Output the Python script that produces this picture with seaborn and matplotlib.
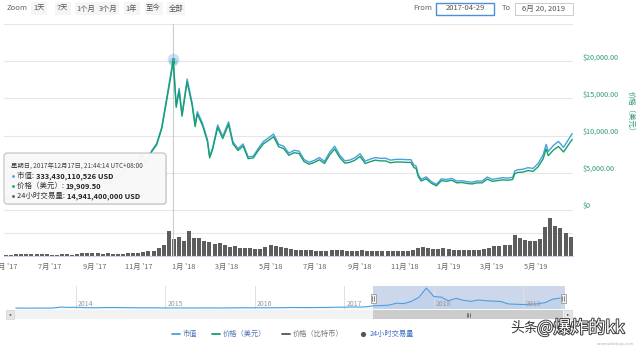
import numpy as np
import pandas as pd
import matplotlib
matplotlib.use("Agg")
import matplotlib.pyplot as plt
import matplotlib.patheffects as pe
import seaborn as sns
from matplotlib.patches import Rectangle, FancyBboxPatch

# ---------------- data ----------------
price_dates = [
    '2017-04-29', '2017-05-06', '2017-05-13', '2017-05-20', '2017-05-25', '2017-05-27', '2017-06-03',
    '2017-06-10', '2017-06-17', '2017-06-24', '2017-07-01', '2017-07-08', '2017-07-15', '2017-07-22',
    '2017-07-29', '2017-08-05', '2017-08-12', '2017-08-19', '2017-08-26', '2017-09-02', '2017-09-09',
    '2017-09-16', '2017-09-23', '2017-09-30', '2017-10-07', '2017-10-14', '2017-10-21', '2017-10-28',
    '2017-11-04', '2017-11-11', '2017-11-18', '2017-11-25', '2017-12-02', '2017-12-09', '2017-12-17 21:44',
    '2017-12-22', '2017-12-26', '2017-12-30',
    '2018-01-06', '2018-01-13', '2018-01-17', '2018-01-20', '2018-01-27', '2018-02-03', '2018-02-06',
    '2018-02-10', '2018-02-17', '2018-02-24', '2018-03-04', '2018-03-10', '2018-03-17', '2018-03-24',
    '2018-03-31', '2018-04-07', '2018-04-14', '2018-04-21', '2018-04-28', '2018-05-05', '2018-05-12',
    '2018-05-19', '2018-05-26', '2018-06-02', '2018-06-09', '2018-06-16', '2018-06-23', '2018-06-30',
    '2018-07-07', '2018-07-14', '2018-07-21', '2018-07-28', '2018-08-04', '2018-08-11', '2018-08-18',
    '2018-08-25', '2018-09-01', '2018-09-08', '2018-09-15', '2018-09-22', '2018-09-29', '2018-10-06',
    '2018-10-13', '2018-10-20', '2018-10-27', '2018-11-03', '2018-11-10', '2018-11-14', '2018-11-17',
    '2018-11-20', '2018-11-24', '2018-12-01', '2018-12-08', '2018-12-15', '2018-12-22', '2018-12-29',
    '2019-01-05', '2019-01-12', '2019-01-19', '2019-01-26', '2019-02-02', '2019-02-09', '2019-02-16',
    '2019-02-23', '2019-03-02', '2019-03-09', '2019-03-16', '2019-03-23', '2019-03-30', '2019-04-02',
    '2019-04-06', '2019-04-13', '2019-04-20', '2019-04-27', '2019-05-04', '2019-05-11', '2019-05-15',
    '2019-05-18', '2019-05-25', '2019-06-01', '2019-06-08', '2019-06-15', '2019-06-20']

price_usd = [
    1350, 1580, 1750, 2050, 2700, 2050, 2500, 2900, 2650, 2600, 2450, 2500, 1950, 2800, 2750, 3250,
    4000, 4100, 4350, 4600, 4300, 3650, 3700, 4350, 4600, 5650, 6000, 5750, 7400, 6350, 7800, 8750,
    10900, 14800, 19909.5, 13800, 16000, 12600,
    17200, 14000, 11200, 12900, 11400, 9200, 7000, 8100, 11100, 9600, 11500, 8900, 8000, 8600, 6900,
    7000, 8000, 8900, 9350, 9850, 8500, 8250, 7350, 7700, 7600, 6500, 6150, 6400, 6750, 6250, 7400,
    8200, 7050, 6300, 6400, 6700, 7200, 6250, 6500, 6700, 6600, 6600, 6350, 6450, 6450, 6400, 6400,
    5700, 5600, 4500, 3900, 4200, 3600, 3250, 3950, 3850,
    4000, 3650, 3700, 3570, 3500, 3650, 3650, 4150, 3850, 3950, 4050, 4000, 4100, 4900, 5050, 5100,
    5300, 5200, 5800, 6900, 8200, 7300, 8050, 8550, 7800, 8800, 9500]

market_cap_b = [
    22.0, 25.8, 28.6, 33.5, 44.2, 33.6, 41.0, 47.6, 43.5, 42.7, 40.3, 41.2, 32.1, 46.1, 45.3, 53.6,
    66.0, 67.8, 71.9, 76.2, 71.3, 60.5, 61.4, 72.2, 76.4, 93.9, 99.8, 95.7, 123.3, 105.9, 130.2, 146.2,
    182.2, 247.6, 333.43, 231.3, 268.2, 211.3,
    288.8, 235.2, 188.3, 216.8, 191.9, 154.9, 117.9, 136.6, 187.3, 162.0, 194.4, 150.5, 135.4, 145.6,
    117.0, 118.7, 135.8, 151.1, 159.0, 167.5, 144.7, 140.6, 125.3, 131.4, 129.8, 111.1, 105.2, 109.5,
    115.6, 107.1, 126.9, 140.7, 121.0, 108.3, 110.1, 115.3, 124.0, 107.8, 112.1, 115.6, 114.0, 114.1,
    109.9, 111.6, 111.7, 111.0, 111.0, 98.9, 97.2, 78.1, 67.7, 73.0, 62.6, 56.6, 68.8, 67.1,
    69.8, 63.7, 64.6, 62.4, 61.2, 63.9, 63.9, 72.7, 67.5, 69.3, 71.1, 70.3, 72.1, 86.1, 88.8, 89.8,
    93.3, 91.7, 102.3, 121.8, 144.8, 128.9, 142.3, 151.2, 138.1, 155.9, 168.4]

volume_start = '2017-04-29'          # weekly bars
volume_b = [
    0.8, 0.9, 1.0, 1.4, 1.3, 1.2, 1.5, 1.2, 1.0, 0.9, 0.8, 1.0, 1.1, 0.9, 1.4, 2.0, 2.2, 1.8, 2.0, 1.6,
    1.7, 1.2, 1.1, 1.5, 1.8, 1.9, 2.0, 2.8, 3.5, 3.0, 5.5, 7.5, 16.0, 11.0, 12.5, 9.5,
    16.5, 12.0, 11.5, 10.0, 9.0, 8.0, 8.5, 7.0, 6.0, 6.5, 5.5, 5.0, 5.2, 4.5, 4.8, 5.8, 7.0, 6.5, 5.6,
    5.0, 4.6, 4.2, 3.8, 3.6, 3.6, 3.4, 3.4, 3.2, 3.6, 4.2, 3.8, 3.4, 3.4, 3.2, 3.6, 3.3, 3.2, 3.3, 3.1,
    3.1, 3.3, 3.0, 3.2, 3.4, 3.8, 5.2, 5.8, 5.2, 4.6, 4.8, 5.4, 4.8,
    4.2, 4.0, 4.2, 4.0, 4.0, 4.2, 4.5, 5.0, 6.5, 6.8, 7.0, 7.5, 14.0, 12.0, 10.5, 10.0, 9.5, 11.0,
    19.0, 24.5, 19.5, 18.0, 15.0, 12.5]

nav_start = '2013-05-01'             # monthly, navigator overview
nav_price = [
    120, 100, 90, 120, 130, 200, 1100, 750,
    900, 600, 450, 450, 600, 650, 580, 480, 390, 340, 370, 320,
    220, 250, 245, 235, 230, 260, 285, 230, 235, 315, 375, 430,
    370, 435, 415, 450, 530, 675, 625, 575, 610, 700, 740, 960,
    970, 1190, 1070, 1350, 2300, 2480, 2870, 4700, 4340, 6470, 10200, 19000,
    11000, 10400, 6970, 9240, 7500, 6400, 7780, 7040, 6630, 6320, 4020, 3740,
    3460, 3850, 4100, 5350, 8570, 9500]
nav_years = ['2014', '2015', '2016', '2017', '2018', '2019']

price_ticks = [0, 5000, 10000, 15000, 20000, 25000]
price_tick_labels = ['$0', '$5,000.00', '$10,000.00', '$15,000.00', '$20,000.00', '']
x_tick_dates = pd.date_range('2017-05-01', '2019-05-01', freq='2MS')
x_tick_labels = [f"{d.month}月 '{d.year % 100:02d}" for d in x_tick_dates]

zoom_buttons = ['1天', '7天', '1个月', '3个月', '1年', '至今', '全部']
legend_labels = ['市值', '价格（美元）', '价格（比特币）', '24小时交易量']
tooltip_title = '星期日, 2017年12月17日, 21:44:14 UTC+08:00'
tooltip_rows = [('市值: ', '333,430,110,526 USD'),
                ('价格（美元）: ', '19,909.50'),
                ('24小时交易量: ', '14,941,400,000 USD')]

# ---------------- style ----------------
sns.set_style('white')
plt.rcParams['font.family'] = ['Noto Sans CJK SC', 'DejaVu Sans']

BLUE = '#4a9fe0'
GREEN = '#16a06c'
GREEN_T = '#2f9a70'
BAR = '#5d5d5d'
GRID = '#e6e6e6'

W, H = 640, 346
fig = plt.figure(figsize=(6.4, 3.46), dpi=100)


def rect(x0, y0, x1, y1):
    return [x0 / W, 1 - y1 / H, (x1 - x0) / W, (y1 - y0) / H]


p_dates = pd.to_datetime(price_dates, format='mixed')
v_dates = pd.date_range(volume_start, periods=len(volume_b), freq='7D')
n_dates = pd.date_range(nav_start, periods=len(nav_price), freq='MS')
x_start, x_end = pd.Timestamp('2017-04-29'), pd.Timestamp('2019-06-21')
peak_dt = pd.Timestamp('2017-12-17 21:44')

# ---------------- price panel ----------------
ax_p = fig.add_axes(rect(4, 24, 573, 210))
ax_p.set_xlim(x_start, x_end)
ax_p.set_ylim(0, 25000)
ax_p.grid(axis='y', color=GRID, lw=0.8)
ax_p.grid(axis='x', visible=False)
for s in ax_p.spines.values():
    s.set_visible(False)
ax_p.axvline(peak_dt, color='#cccccc', lw=0.8, zorder=1)

ax_m = ax_p.twinx()
sns.lineplot(x=p_dates, y=market_cap_b, ax=ax_m, color=BLUE, lw=1.0)
ax_m.set_ylim(0, 410)
ax_m.set_xlim(x_start, x_end)
ax_m.scatter([peak_dt], [333.43], s=70, color=BLUE, alpha=0.3, lw=0)
ax_m.scatter([peak_dt], [333.43], s=6, color=BLUE, lw=0)
ax_m.axis('off')

ax_p2 = ax_p.twinx()
sns.lineplot(x=p_dates, y=price_usd, ax=ax_p2, color=GREEN, lw=1.0)
ax_p2.set_ylim(0, 25000)
ax_p2.set_xlim(x_start, x_end)
ax_p2.scatter([peak_dt], [19909.5], s=40, color=GREEN, alpha=0.2, lw=0)
ax_p2.scatter([peak_dt], [19909.5], s=6, color=GREEN, lw=0)
ax_p2.axis('off')

# price tick labels on the right (after twinx, which moves them left)
ax_p.set_yticks(price_ticks)
ax_p.set_yticklabels(price_tick_labels)
ax_p.yaxis.tick_right()
ax_p.tick_params(axis='y', left=False, labelleft=False, right=False, labelright=True,
                 length=0, pad=7, labelsize=5.2, labelcolor=GREEN_T)
ax_p.tick_params(axis='x', bottom=False, labelbottom=False)
for lbl in ax_p.get_yticklabels(which='major'):
    lbl.set_verticalalignment('bottom')

# ---------------- volume panel ----------------
ax_v = fig.add_axes(rect(4, 210, 573, 256))
ax_v.bar(v_dates, volume_b, width=5.5, align='edge', color=BAR, lw=0, zorder=2)
ax_v.set_xlim(x_start, x_end)
ax_v.set_ylim(0, 30)
ax_v.set_yticks([0, 15, 30])
ax_v.tick_params(axis='y', left=False, labelleft=False)
ax_v.grid(axis='y', color=GRID, lw=0.8)
ax_v.grid(axis='x', visible=False)
ax_v.set_xticks(x_tick_dates)
ax_v.set_xticklabels(x_tick_labels)
ax_v.tick_params(axis='x', length=2.5, width=0.6, color='#ccd6eb', pad=2.5,
                 labelsize=5.3, labelcolor='#666666')
for k, s in ax_v.spines.items():
    s.set_visible(k == 'bottom')
ax_v.spines['bottom'].set_color('#ccd6eb')
ax_v.spines['bottom'].set_linewidth(0.8)
ax_v.axvline(peak_dt, color='#cccccc', lw=0.8, zorder=3)
ax_v.patch.set_alpha(0)

# ---------------- navigator ----------------
nav_end = pd.Timestamp('2019-06-20')
ax_n = fig.add_axes(rect(15, 286, 565, 309))
ax_n.axvspan(x_start, nav_end, color=(0.4, 0.52, 0.76), alpha=0.32, lw=0, zorder=0)
year_dates = [pd.Timestamp(f'{y}-01-01') for y in nav_years]
for d, y in zip(year_dates, nav_years):
    ax_n.axvline(d, color='#e0e0e0', lw=0.7, zorder=0.5)
    ax_n.annotate(y, xy=(d, 0.2), xycoords=('data', 'axes fraction'), xytext=(1.5, 0),
                  textcoords='offset points', fontsize=5, color='#999999', va='center')
ax_n.fill_between(n_dates, nav_price, -750, color=BLUE, alpha=0.08, lw=0)
sns.lineplot(x=n_dates, y=nav_price, ax=ax_n, color=BLUE, lw=0.8)
ax_n.set_xlim(pd.Timestamp('2013-04-28'), nav_end)
ax_n.set_ylim(-750, 20900)
ax_n.set_xticks([])
ax_n.set_yticks([])
ax_n.set_xlabel('')
ax_n.set_ylabel('')
for s in ax_n.spines.values():
    s.set_visible(False)
ax_n.patch.set_alpha(0)

# ---------------- overlay (UI) ----------------
ax_o = fig.add_axes([0, 0, 1, 1])
ax_o.set_xlim(0, W)
ax_o.set_ylim(H, 0)
ax_o.axis('off')
ax_o.set_zorder(20)
ax_o.patch.set_alpha(0)

# range selector
ax_o.text(7, 8.5, 'Zoom', fontsize=5.5, color='#666666', va='center', ha='left')
btn_centers = [39, 62.5, 85.5, 108, 131.5, 153.5, 176]
btn_widths = [16, 16, 22, 22, 16, 18, 18]
for lab, cx, bw in zip(zoom_buttons, btn_centers, btn_widths):
    ax_o.add_patch(Rectangle((cx - bw / 2, 2), bw, 13, facecolor='#f5f5f5', edgecolor='none'))
    ax_o.text(cx, 8.5, lab, fontsize=5.3, color='#555555', ha='center', va='center')
ax_o.text(423, 8.5, 'From', fontsize=5.5, color='#666666', ha='center', va='center')
ax_o.add_patch(Rectangle((436, 2.5), 58, 12.5, facecolor='white', edgecolor='#4a90d9', lw=1.0))
ax_o.text(465, 8.5, '2017-04-29', fontsize=5.5, color='#555555', ha='center', va='center')
ax_o.text(506, 8.5, 'To', fontsize=5.5, color='#666666', ha='center', va='center')
ax_o.add_patch(Rectangle((515, 2.5), 58, 12.5, facecolor='white', edgecolor='#cccccc', lw=0.7))
ax_o.text(544, 8.5, '6月 20, 2019', fontsize=5.5, color='#555555', ha='center', va='center')

# y-axis title
ax_o.text(631, 113, '价格（美元）', fontsize=5.3, color=GREEN_T, rotation=270,
          ha='center', va='center')

# tooltip
ax_o.add_patch(FancyBboxPatch((6, 155), 161, 50, boxstyle='round,pad=0,rounding_size=3',
                              facecolor='#888888', edgecolor='none', alpha=0.15))
ax_o.add_patch(FancyBboxPatch((4, 153), 162, 51, boxstyle='round,pad=0,rounding_size=3',
                              facecolor='#f9f9f9', edgecolor='#b5b5b5', lw=0.7, alpha=0.97))
ax_o.text(11, 166, tooltip_title, fontsize=4.6, color='#444444', va='center', ha='left')
dot_colors = [BLUE, GREEN, '#555555']
row_y = [176, 186, 196]
for (lab, val), c, yy in zip(tooltip_rows, dot_colors, row_y):
    ax_o.scatter([13], [yy], s=4, color=c, lw=0)
    t = ax_o.text(17, yy, lab, fontsize=5.4, color='#333333', va='center', ha='left')
    ax_o.annotate(val, xy=(1, 0.5), xycoords=t, va='center', ha='left', fontsize=5.4,
                  fontweight='bold', color='#222222')

# navigator handles and scrollbar
ax_o.add_patch(Rectangle((6, 309.5), 566, 9.5, facecolor='#f2f2f2', edgecolor='none'))
ax_o.add_patch(Rectangle((373, 309.5), 190, 9.5, facecolor='#cccccc', edgecolor='none'))
ax_o.add_patch(Rectangle((6, 309.5), 8, 9.5, facecolor='#e6e6e6', edgecolor='#cccccc', lw=0.4))
ax_o.add_patch(Rectangle((564, 309.5), 8, 9.5, facecolor='#e6e6e6', edgecolor='#cccccc', lw=0.4))
ax_o.text(10, 314.2, '◂', fontsize=3.2, color='#333333', ha='center', va='center', family='DejaVu Sans')
ax_o.text(568, 314.2, '▸', fontsize=3.2, color='#333333', ha='center', va='center', family='DejaVu Sans')
for gx in (466.5, 468, 469.5):
    ax_o.plot([gx, gx], [312.5, 316.5], color='#333333', lw=0.4)
for hx in (373, 563):
    ax_o.add_patch(Rectangle((hx - 2.5, 293.5), 5, 9, facecolor='#f2f2f2', edgecolor='#999999', lw=0.6))
    ax_o.plot([hx - 0.8, hx - 0.8], [296, 300.5], color='#333333', lw=0.4)
    ax_o.plot([hx + 0.8, hx + 0.8], [296, 300.5], color='#333333', lw=0.4)

# legend
leg_y = 334
leg_items = [(172, BLUE, 'line', '#4f74b3'), (212, GREEN, 'line', '#4f74b3'),
             (282, '#555555', 'line', '#777777'), (363, '#555555', 'dot', '#3f6cc4')]
for (lx, c, kind, tc), lab in zip(leg_items, legend_labels):
    if kind == 'line':
        ax_o.plot([lx, lx + 8], [leg_y, leg_y], color=c, lw=1.3)
        tx = lx + 11
    else:
        ax_o.scatter([lx], [leg_y], s=14, color=c, lw=0)
        tx = lx + 7
    ax_o.text(tx, leg_y, lab, fontsize=5.2, color=tc, va='center', ha='left')

# watermark
ax_o.text(510, 328, '头条', fontsize=10, color='#3a3a3a', va='center', ha='left')
ax_o.text(537, 328, '@爆炸的kk', fontsize=12.5, color='white', va='center', ha='left',
          path_effects=[pe.withStroke(linewidth=1.4, foreground='#3a3a3a')])
ax_o.text(634, 343.5, 'coinmarketcap.com', fontsize=2.8, color='#aaaaaa', va='center', ha='right')

fig.savefig('out.png', dpi=100)
